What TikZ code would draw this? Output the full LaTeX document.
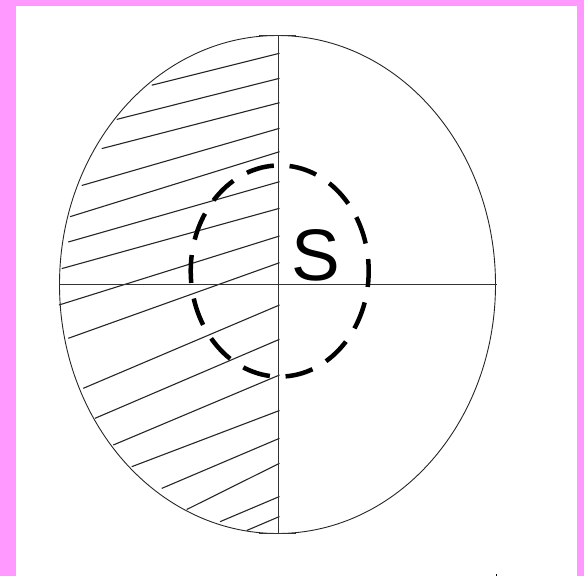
\documentclass[tikz,border=0pt]{standalone}
\usepackage{fontspec}
\setmainfont{Liberation Sans}
\usepackage{tikz}
\usetikzlibrary{positioning}
\definecolor{framepink}{RGB}{255,153,255}
\tikzset{
  outline/.style={line width=0.9pt, black!85},
  axisline/.style={line width=1.3pt, black!80},
  hatchline/.style={line width=1.1pt, black!85},
  region/.style={line width=4.5pt, dash pattern=on 28pt off 15.75pt, dash phase=12pt},
}
\begin{document}
\begin{tikzpicture}[x=1pt,y=-1pt]
  \fill[framepink] (0,0) rectangle (584,576);
  \fill[white] (16,6) rectangle (577,576);
  \useasboundingbox (0,0) rectangle (584,576);

  \coordinate (O) at (277.5,284.5);
  \coordinate (C) at (279.7,271);
  \coordinate (top) at (278.3,35.6);
  \coordinate (bot) at (278.3,533.4);
  \coordinate (west) at (58.5,284.3);
  \coordinate (east) at (496.5,284.3);

  % hatching of the left half
  \foreach \xl/\yl/\yr in {151.7/85.2/53.3, 116.7/119.4/78.3, 101.7/148.6/102.7,
      81.7/185.5/128.3, 70/216.7/151.7, 68.3/242/181.7, 61.7/268.6/208.3,
      59/305/236, 68.3/338.3/262.7, 83.3/388.3/305, 95/418.3/339.3,
      113.3/445/375, 131.7/466.7/410.5, 161.7/488.4/438.3, 186.7/509.5/463.3,
      220/521.7/496.5, 246.7/530.5/516.5}
    \draw[hatchline] (\xl,\yl) -- (279.5,\yr);

  \draw[outline] (O) ellipse [x radius=218, y radius=249];
  \draw[axisline] (top) -- (bot);
  \draw[axisline] (west) -- (east);
  \draw[axisline] ([xshift=-19.5pt]top) -- ([xshift=17.7pt]top);
  \draw[axisline] ([xshift=-19.5pt]bot) -- ([xshift=17.7pt]bot);

  \draw[region] (C) ellipse [x radius=89, y radius=105.6];
  \node[font=\fontsize{73}{73}\selectfont, anchor=base, inner sep=0pt] (S) at (316,280) {S};

  \draw[line width=0.6pt] (496,574) -- (496,576);
\end{tikzpicture}
\end{document}
